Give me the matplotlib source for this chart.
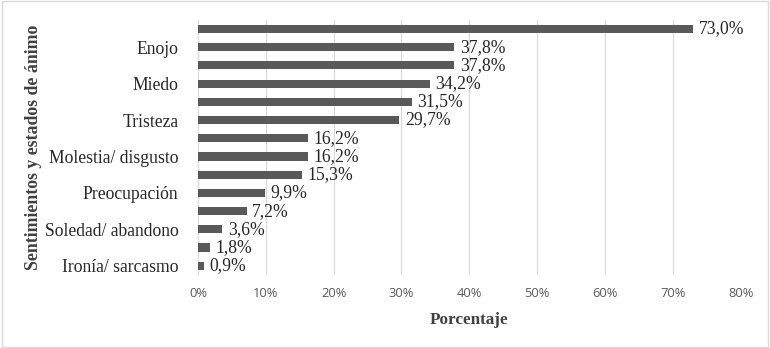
import matplotlib.pyplot as plt
from matplotlib.patches import Rectangle

# categories top to bottom (Excel only shows every other label)
categorias = ["", "Enojo", "", "Miedo", "", "Tristeza", "", "Molestia/ disgusto",
              "", "Preocupación", "", "Soledad/ abandono", "", "Ironía/ sarcasmo"]
valores = [73.0, 37.8, 37.8, 34.2, 31.5, 29.7, 16.2, 16.2, 15.3, 9.9, 7.2, 3.6, 1.8, 0.9]
xticks = [0, 10, 20, 30, 40, 50, 60, 70, 80]

gris = "#595959"
serif = "Liberation Serif"

fig = plt.figure(figsize=(7.7, 3.48), dpi=100)
ax = fig.add_axes([0.257, 0.21, 0.705, 0.733])

pos = list(range(len(valores)))[::-1]
ax.barh(pos, valores, height=0.45, color=gris, zorder=3)

for p, v in zip(pos, valores):
    ax.text(v + 0.8, p, ("%.1f%%" % v).replace(".", ","), va="center", ha="left",
            fontsize=12.7, family=serif, color="#262626")

ax.set_xlim(0, 80)
ax.set_ylim(-0.5, len(valores) - 0.5)
ax.set_xticks(xticks)
ax.set_xticklabels(["%d%%" % t for t in xticks], fontsize=9.3, family="Open Sans", color=gris)
ax.set_yticks(pos)
ax.set_yticklabels(categorias, fontsize=12.7, family=serif, color="#262626")
ax.tick_params(axis="both", length=0, pad=9)
ax.tick_params(axis="y", pad=14)
ax.grid(axis="x", color="#d9d9d9", linewidth=0.8, zorder=0)
for s in ax.spines.values():
    s.set_visible(False)

ax.set_xlabel("Porcentaje", fontsize=12.3, family=serif, fontweight="bold", color="#404040", labelpad=8)
ax.set_ylabel("Sentimientos y estados de ánimo", fontsize=12.8, family=serif, fontweight="bold",
              color="#404040", labelpad=2)

fig.patches.append(Rectangle((0.002, 0.003), 0.995, 0.993, transform=fig.transFigure,
                             fill=False, edgecolor="#d9d9d9", linewidth=1))

fig.savefig("out.png", dpi=100)
